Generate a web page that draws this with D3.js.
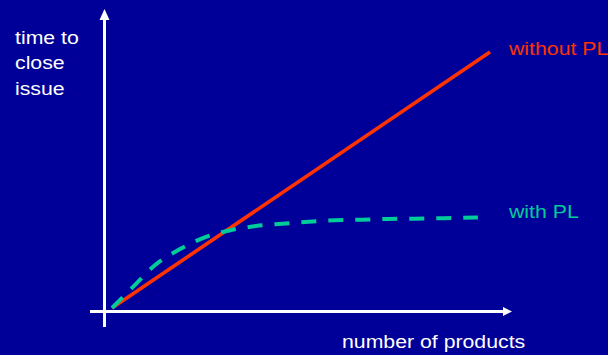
<!DOCTYPE html>
<html>
<head>
<meta charset="utf-8">
<script src="https://cdn.jsdelivr.net/npm/d3@7"></script>
<style>
  html, body { margin: 0; padding: 0; background: #000099; }
  svg { display: block; }
  text { font-family: "Liberation Sans", Arial, sans-serif; }
</style>
</head>
<body>
<svg id="chart" width="608" height="355"></svg>
<script>
// Number of products (arbitrary units) vs. time to close an issue
const withoutPL = [[0, 0], [100, 100]];
const withPL = [
  [0, 0], [6.6, 9.8], [11.4, 16.8], [18, 23], [24, 27.3], [31, 30.3],
  [38, 32], [45, 32.9], [52, 33.7], [59, 34.3], [66, 34.5], [73, 34.8],
  [80, 34.9], [88, 35.1], [96.8, 35.4]
];
const yTitle = ["time to", "close", "issue"];
const xTitle = "number of products";
const seriesNames = ["without PL", "with PL"];

const svg = d3.select("#chart");
const W = 608, H = 355;

svg.append("rect").attr("width", W).attr("height", H).attr("fill", "#000099");

const x = d3.scaleLinear().domain([0, 100]).range([112, 490]);
const y = d3.scaleLinear().domain([0, 100]).range([308, 52]);

// Axis arrows
const axisX = 104.5, axisY = 311.5;
const white = "#ffffff";
svg.append("line").attr("x1", axisX).attr("x2", axisX).attr("y1", 19).attr("y2", 327)
  .attr("stroke", white).attr("stroke-width", 3);
svg.append("path").attr("d", `M${axisX},9 L${axisX + 5},20 L${axisX - 5},20 Z`).attr("fill", white);
svg.append("line").attr("x1", 90).attr("x2", 504).attr("y1", axisY).attr("y2", axisY)
  .attr("stroke", white).attr("stroke-width", 3);
svg.append("path").attr("d", `M512,${axisY} L503,${axisY - 4.5} L503,${axisY + 4.5} Z`).attr("fill", white);

const line = d3.line().x(d => x(d[0])).y(d => y(d[1]));

svg.append("path").datum(withoutPL).attr("d", line)
  .attr("fill", "none").attr("stroke", "#ff3300").attr("stroke-width", 3.6);

svg.append("path").datum(withPL).attr("d", line.curve(d3.curveMonotoneX))
  .attr("fill", "none").attr("stroke", "#00cc99").attr("stroke-width", 4)
  .attr("stroke-dasharray", "15,12");

// Labels (the face runs slightly wide)
function label(txt, tx, ty, color) {
  svg.append("text")
    .attr("transform", `translate(${tx},${ty}) scale(1.15,1)`)
    .attr("font-size", 18.5).attr("fill", color).text(txt);
}
yTitle.forEach((t, i) => label(t, 15, 43.5 + i * 25.8, white));
label(xTitle, 342, 348, white);
label(seriesNames[0], 509, 55, "#ff3300");
label(seriesNames[1], 509, 218, "#00cc99");
</script>
</body>
</html>
